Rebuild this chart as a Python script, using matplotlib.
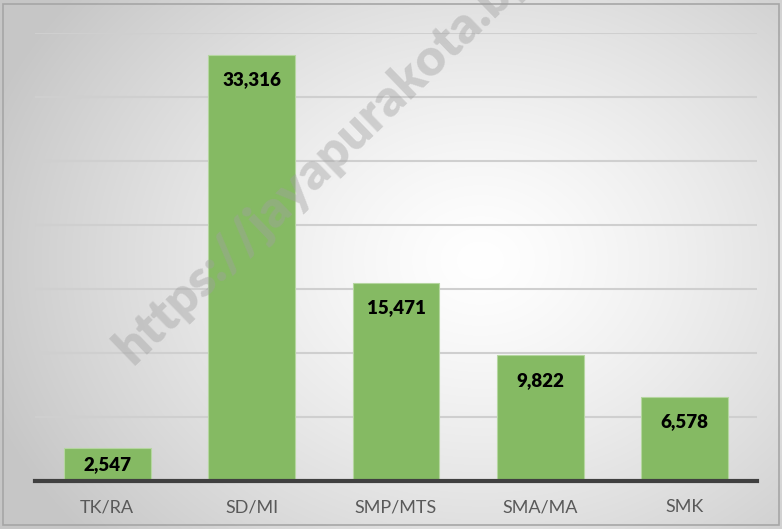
import numpy as np
import matplotlib
matplotlib.use("Agg")
import matplotlib.pyplot as plt
from matplotlib.patches import Rectangle

categories = ["TK/RA", "SD/MI", "SMP/MTS", "SMA/MA", "SMK"]
values = [2547, 33316, 15471, 9822, 6578]
labels = ["2,547", "33,316", "15,471", "9,822", "6,578"]

fig = plt.figure(figsize=(7.82, 5.29), dpi=100)

# radial gradient background
bg = fig.add_axes([0, 0, 1, 1])
yy, xx = np.mgrid[0:529, 0:782]
r = np.sqrt(((xx - 480) / 520.0) ** 2 + ((yy - 260) / 420.0) ** 2)
shade = 1.0 - 0.22 * np.clip(r, 0, 1) ** 1.3
bg.imshow(np.dstack([shade, shade, shade]), extent=[0, 782, 529, 0], aspect="auto")
bg.set_xlim(0, 782)
bg.set_ylim(529, 0)
bg.axis("off")
bg.add_patch(Rectangle((3, 4), 776, 521, fill=False, edgecolor="#a6a6a6", lw=1.2))

ax = fig.add_axes([35 / 782, 48 / 529, 722 / 782, 448 / 529])
ax.patch.set_alpha(0)
x = np.arange(len(categories))
ax.bar(x, values, width=0.6, color="#85BA63", edgecolor="#b5d6a0", lw=0.8, zorder=3)
ax.set_xlim(-0.5, len(categories) - 0.5)
ax.set_ylim(0, 35000)
ax.set_yticks(np.arange(5000, 35001, 5000))
ax.yaxis.grid(True, color="#cfcfcf", lw=1.5, zorder=0)
ax.tick_params(axis="y", length=0, labelleft=False)
ax.tick_params(axis="x", length=0, pad=13, labelsize=13, labelcolor="#595959")
ax.set_xticks(x)
ax.set_xticklabels(categories, family="Lato")
for s in ["top", "left", "right"]:
    ax.spines[s].set_visible(False)
ax.spines["bottom"].set_color("#404040")
ax.spines["bottom"].set_linewidth(3)
ax.spines["bottom"].set_zorder(4)

# labels inside end of bars (pixels per unit: 448 / 35000)
for xi, v, lab in zip(x, values, labels):
    h_px = v * 448 / 35000
    off = min(25, h_px - 16)
    ax.annotate(lab, (xi, v), xytext=(0, -off), textcoords="offset pixels",
                ha="center", va="center", fontsize=13.5, fontweight="heavy",
                family="Lato", color="black", zorder=5)

# watermark
fig.text(132 / 782, 1 - 366 / 529, "https://jayapurakota.bps.go.id", rotation=44,
         fontsize=37, fontweight="heavy", family="Lato", color="#a0a0a0", alpha=0.42,
         ha="left", va="baseline", rotation_mode="anchor", zorder=10)

fig.savefig("out.png", dpi=100)
